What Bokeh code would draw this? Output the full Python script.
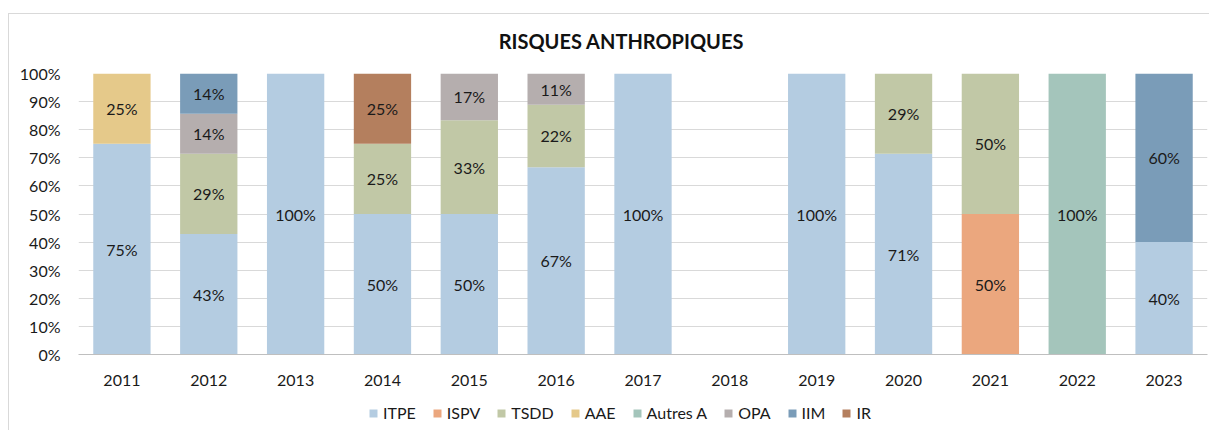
from bokeh.plotting import figure
from bokeh.layouts import column
from bokeh.models import ColumnDataSource, FactorRange, Range1d, Legend, NumeralTickFormatter, FixedTicker, Label
from bokeh.embed import file_html
from bokeh.resources import INLINE
from bokeh.core.properties import value

years = ["2011", "2012", "2013", "2014", "2015", "2016", "2017",
         "2018", "2019", "2020", "2021", "2022", "2023"]

# share of each category (%), per year
ITPE     = [75, 42.86, 100, 50, 50, 66.67, 100, 0, 100, 71.43, 0, 0, 40]
ISPV     = [0, 0, 0, 0, 0, 0, 0, 0, 0, 0, 50, 0, 0]
TSDD     = [0, 28.57, 0, 25, 33.33, 22.22, 0, 0, 0, 28.57, 50, 0, 0]
AAE      = [25, 0, 0, 0, 0, 0, 0, 0, 0, 0, 0, 0, 0]
AUTRES_A = [0, 0, 0, 0, 0, 0, 0, 0, 0, 0, 0, 100, 0]
OPA      = [0, 14.29, 0, 0, 16.67, 11.11, 0, 0, 0, 0, 0, 0, 0]
IIM      = [0, 14.29, 0, 0, 0, 0, 0, 0, 0, 0, 0, 0, 60]
IR       = [0, 0, 0, 25, 0, 0, 0, 0, 0, 0, 0, 0, 0]

series_names = ["ITPE", "ISPV", "TSDD", "AAE", "Autres A", "OPA", "IIM", "IR"]
series_values = [ITPE, ISPV, TSDD, AAE, AUTRES_A, OPA, IIM, IR]
colors = ["#B4CCE1", "#EBA77E", "#C1C8A6", "#E5C98A", "#A4C5BB", "#B5AEAE", "#7A9CB8", "#B47F5E"]
TITLE = "RISQUES ANTHROPIQUES"

FONT = "Lato"
TXT = "#1a1a1a"

data = {"year": years}
keys = []
for i, vals in enumerate(series_values):
    k = f"s{i}"
    keys.append(k)
    data[k] = [v / 100 for v in vals]
source = ColumnDataSource(data)

# title strip
tt = figure(width=1200, height=44, output_backend="svg", toolbar_location=None,
            x_range=Range1d(0, 1200), y_range=Range1d(0, 44),
            min_border_left=0, min_border_right=0, min_border_top=0, min_border_bottom=0,
            x_axis_location=None, y_axis_location=None)
tt.grid.grid_line_color = None
tt.outline_line_color = None
tt.add_layout(Label(x=577, y=18, text=TITLE, text_align="center", text_baseline="middle",
                    text_font=FONT, text_font_size="20px", text_font_style="bold",
                    text_color="#111111"))

p = figure(x_range=FactorRange(*years, range_padding=0), y_range=Range1d(0, 1),
           width=1200, height=336, output_backend="svg", toolbar_location=None,
           min_border_left=69, min_border_right=2, min_border_top=15, min_border_bottom=40)

renderers = p.vbar_stack(keys, x="year", width=0.66, color=colors, source=source, line_color=None)

# data labels
lx, ly, lt = [], [], []
for j, y in enumerate(years):
    base = 0.0
    for vals in series_values:
        v = vals[j] / 100
        if v > 0:
            lx.append(y)
            ly.append(base + v / 2)
            lt.append(f"{round(vals[j])}%")
        base += v
p.text(x=lx, y=ly, text=lt, text_align="center", text_baseline="middle",
       text_font=value(FONT), text_font_size="16px", text_color=TXT)

p.outline_line_color = None
p.xgrid.grid_line_color = None
p.ygrid.grid_line_color = "#D9D9D9"
p.yaxis.ticker = FixedTicker(ticks=[i / 10 for i in range(11)])
p.yaxis.formatter = NumeralTickFormatter(format="0%")
p.yaxis.axis_line_color = None
p.yaxis.major_tick_line_color = None
p.yaxis.minor_tick_line_color = None
p.xaxis.axis_line_color = "#BFBFBF"
p.xaxis.major_tick_line_color = None
p.xaxis.major_label_standoff = 14
for ax in (p.xaxis, p.yaxis):
    ax.major_label_text_font = FONT
    ax.major_label_text_font_size = "16px"
    ax.major_label_text_color = TXT
p.yaxis.major_label_standoff = 12

# legend in its own strip below the chart (its bars sit outside the visible y range)
lg = figure(width=1200, height=36, output_backend="svg", toolbar_location=None,
            x_range=FactorRange(*years, range_padding=0), y_range=Range1d(5, 6),
            min_border_left=0, min_border_right=0, min_border_top=0, min_border_bottom=0,
            x_axis_location=None, y_axis_location=None)
lg.grid.grid_line_color = None
lg.outline_line_color = None
leg_renderers = lg.vbar_stack(keys, x="year", width=0.66, color=colors, source=source, line_color=None)
legend = Legend(items=[(n, [r]) for n, r in zip(series_names, leg_renderers)],
                orientation="horizontal", location=(290, 8),
                label_text_font=FONT, label_text_font_size="16px", label_text_color=TXT,
                glyph_width=10, glyph_height=10, spacing=16, label_standoff=5,
                border_line_color=None, background_fill_alpha=0, padding=4, margin=0)
lg.add_layout(legend, "center")

layout = column(tt, p, lg, spacing=0,
                styles={"border-left": "1px solid #D9D9D9", "border-top": "1px solid #D9D9D9",
                        "margin-top": "13px", "margin-left": "8px"})

open("out.html", "w").write(file_html(layout, INLINE))
